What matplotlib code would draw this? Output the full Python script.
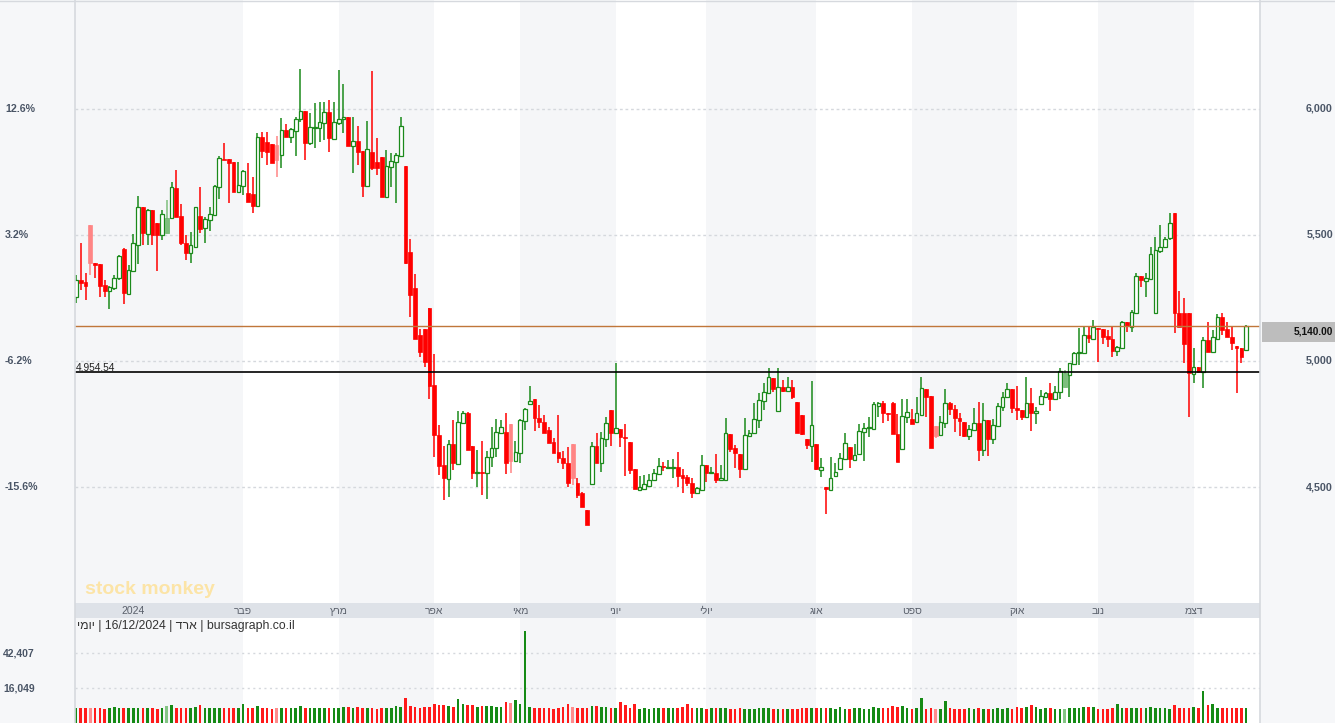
import numpy as np
import matplotlib
matplotlib.use("Agg")
import matplotlib.pyplot as plt
from matplotlib.transforms import blended_transform_factory
from matplotlib.lines import Line2D
from matplotlib.patches import Rectangle

# ---------------- data (daily candles, 17/12/2023 - 16/12/2024) ----------------
opens = [5254,5321,5313,5540,5389,5385,5302,5278,5290,5329,
         5444,5266,5357,5460,5611,5504,5599,5547,5500,5508,
         5567,5686,5575,5468,5429,5452,5575,5528,5559,5579,
         5690,5802,5802,5790,5671,5694,5667,5663,5615,5889,
         5869,5861,5857,5817,5917,5889,5913,5960,5992,5865,
         5925,5925,5944,5988,5881,5944,5960,5968,5853,5873,
         5833,5694,5829,5790,5809,5651,5770,5790,5813,5774,
         5432,5290,5103,5127,5210,4905,4706,4587,4532,4671,
         4591,4754,4794,4663,4556,4560,4556,4619,4655,4714,
         4718,4750,4603,4635,4762,4829,4849,4774,4758,4726,
         4679,4639,4615,4595,4671,4516,4476,4409,4512,4663,
         4595,4690,4806,4714,4730,4698,4679,4571,4488,4492,
         4504,4528,4552,4583,4575,4577,4579,4548,4540,4516,
         4476,4488,4587,4556,4556,4528,4528,4710,4655,4631,
         4571,4702,4714,4766,4841,4873,4933,4802,4897,4881,
         4897,4837,4786,4690,4663,4671,4567,4500,4488,4544,
         4571,4611,4659,4607,4631,4718,4734,4730,4821,4833,
         4794,4833,4710,4651,4778,4770,4758,4786,4889,4861,
         4742,4706,4754,4833,4810,4774,4758,4702,4726,4754,
         4647,4766,4690,4742,4817,4857,4889,4813,4806,4778,
         4833,4794,4829,4857,4873,4849,4877,4897,4944,4988,
         5032,5032,5103,5087,5131,5127,5099,5087,5040,5052,
         5155,5135,5190,5337,5317,5325,5190,5436,5452,5488,
         5587,5190,5190,5190,4948,4976,4956,5083,5036,5087,
         5175,5127,5095,5060,5052,5044]
highs = [5341,5468,5349,5540,5389,5385,5321,5298,5341,5421,
         5448,5381,5504,5655,5611,5603,5599,5547,5599,5639,
         5710,5758,5623,5500,5512,5611,5690,5571,5611,5698,
         5813,5865,5802,5790,5790,5758,5786,5730,5905,5909,
         5909,5861,5893,5964,5940,5925,5968,6159,5992,5984,
         6024,6028,6028,6036,6028,6155,6099,5968,5968,5932,
         5833,5952,6151,5885,5809,5837,5825,5825,5968,5774,
         5484,5345,5127,5127,5210,5028,4746,4663,4686,4766,
         4802,4802,4798,4663,4647,4683,4643,4738,4770,4766,
         4794,4750,4683,4770,4813,4901,4849,4825,4786,4738,
         4694,4786,4643,4659,4671,4536,4480,4409,4679,4714,
         4718,4778,4806,4992,4730,4750,4679,4571,4544,4548,
         4552,4571,4615,4599,4607,4611,4639,4571,4548,4536,
         4500,4627,4587,4579,4631,4587,4774,4710,4667,4631,
         4774,4726,4833,4873,4913,4972,4933,4972,4925,4937,
         4925,4837,4786,4690,4921,4671,4615,4500,4619,4595,
         4635,4714,4659,4671,4750,4754,4778,4837,4837,4841,
         4794,4837,4790,4849,4849,4810,4857,4937,4889,4861,
         4742,4782,4889,4837,4825,4794,4758,4746,4813,4837,
         4833,4766,4770,4833,4877,4913,4889,4901,4806,4937,
         4893,4817,4885,4877,4913,4901,4972,4964,4992,5036,
         5131,5135,5135,5163,5131,5127,5123,5135,5060,5159,
         5155,5202,5349,5337,5349,5452,5492,5540,5492,5587,
         5587,5278,5250,5190,5052,4976,5095,5155,5123,5186,
         5190,5155,5135,5060,5052,5143]
lows = [5230,5282,5242,5341,5329,5254,5254,5206,5282,5321,
        5226,5266,5357,5385,5460,5460,5460,5357,5480,5508,
        5567,5571,5460,5401,5389,5452,5508,5468,5516,5575,
        5643,5798,5627,5671,5667,5659,5631,5587,5611,5806,
        5778,5786,5730,5766,5889,5865,5813,5948,5798,5857,
        5845,5869,5877,5829,5877,5936,5905,5853,5746,5778,
        5651,5690,5758,5738,5651,5651,5690,5627,5809,5385,
        5175,5087,5016,4976,4849,4619,4548,4448,4460,4567,
        4587,4754,4647,4532,4500,4468,4452,4579,4619,4714,
        4552,4556,4603,4595,4726,4829,4722,4734,4714,4675,
        4635,4595,4571,4500,4508,4456,4421,4349,4512,4595,
        4560,4659,4663,4714,4659,4544,4552,4492,4488,4492,
        4504,4528,4552,4563,4575,4536,4500,4476,4504,4456,
        4472,4488,4520,4552,4516,4524,4528,4639,4575,4536,
        4571,4702,4714,4734,4805,4873,4877,4798,4877,4877,
        4849,4714,4706,4651,4599,4567,4540,4393,4488,4540,
        4567,4611,4575,4607,4627,4603,4698,4730,4778,4754,
        4762,4710,4599,4651,4754,4750,4758,4786,4778,4655,
        4694,4702,4734,4786,4718,4702,4698,4686,4722,4603,
        4623,4623,4671,4742,4802,4853,4794,4766,4766,4774,
        4722,4750,4829,4857,4802,4849,4849,4897,4857,4984,
        4984,5028,5071,5087,4996,5067,5056,5016,5020,5052,
        5115,5115,5190,5294,5254,5325,5190,5428,5448,5480,
        5111,5135,4992,4778,4913,4952,4893,5036,5032,5087,
        5103,5095,5044,4873,4992,5044]
closes = [5321,5309,5298,5389,5381,5298,5278,5294,5329,5417,
          5270,5361,5468,5611,5508,5599,5500,5500,5583,5567,
          5690,5571,5468,5429,5460,5611,5524,5563,5583,5694,
          5806,5798,5786,5671,5698,5754,5631,5615,5889,5833,
          5829,5786,5798,5917,5889,5921,5960,5992,5865,5929,
          5929,5948,5988,5885,5948,5960,5968,5853,5873,5829,
          5694,5841,5766,5766,5651,5774,5794,5817,5932,5389,
          5262,5087,5036,4996,4901,4706,4583,4536,4671,4595,
          4758,4794,4647,4556,4560,4556,4619,4655,4718,4738,
          4595,4603,4639,4766,4810,4841,4774,4758,4714,4675,
          4635,4615,4595,4516,4536,4468,4421,4349,4663,4595,
          4694,4754,4714,4734,4698,4694,4567,4492,4500,4512,
          4528,4556,4583,4579,4579,4579,4544,4536,4516,4476,
          4496,4587,4556,4560,4528,4536,4714,4651,4635,4571,
          4706,4714,4770,4845,4877,4937,4889,4897,4881,4897,
          4857,4714,4710,4667,4746,4571,4579,4492,4536,4560,
          4615,4675,4611,4627,4722,4734,4738,4829,4833,4794,
          4790,4710,4599,4782,4798,4750,4794,4893,4857,4655,
          4702,4758,4833,4810,4774,4762,4702,4730,4754,4647,
          4766,4690,4746,4821,4857,4889,4813,4806,4778,4833,
          4794,4802,4861,4873,4849,4877,4960,4952,4992,5032,
          5036,5103,5091,5135,5127,5095,5087,5040,5056,5155,
          5139,5194,5337,5321,5329,5425,5440,5452,5484,5547,
          5190,5135,5067,4952,4976,4956,5083,5036,5095,5175,
          5123,5095,5071,5052,5016,5140]
volumes = [9120,9120,9290,9290,9290,9290,8960,9290,9550,9290,
           9120,9290,9290,9290,9290,9290,9290,8960,9290,9740,
           10010,9290,9290,9290,9290,9550,10010,9290,9290,9290,
           9290,9290,9290,9290,9290,10290,9290,9290,9740,9290,
           9290,8960,9290,9290,9290,9290,9290,9740,9290,9290,
           9290,9290,9290,9290,9290,9290,9550,9550,9290,9550,
           9290,9290,9290,8960,9290,9290,9290,9740,9550,12270,
           9740,9550,9290,9550,9550,10290,9920,10100,9740,9550,
           11830,10290,10010,10010,9550,9740,9740,9740,9550,9550,
           10880,10500,11510,10290,78080,9380,9210,9210,9210,9210,
           8960,9210,9550,10290,9380,9210,9210,9210,9740,9740,
           9380,9470,9210,9210,10880,10010,9210,10290,9040,9210,
           8960,9210,9210,9210,9210,9210,9210,9470,10290,9210,
           9210,9210,8960,9210,9210,9210,9210,8960,8960,9210,
           8960,8960,8960,9210,9210,9210,8960,8960,8960,8960,
           8960,8960,9210,9210,9210,9210,9210,9210,9210,8960,
           9470,8960,8960,9210,9210,8960,8960,9470,9210,9210,
           9210,9740,9550,9740,9210,8960,9210,12270,8960,9210,
           8960,8960,11190,9290,8960,8960,8960,9210,8960,9210,
           8960,8960,8960,9210,8960,9210,8960,9470,9210,9470,
           10010,9470,8960,9210,9210,8960,8960,8960,9210,9210,
           9210,9470,9470,9470,9040,8960,8960,9210,10290,9210,
           9210,9210,9210,9210,9210,9470,9210,9210,9210,8960,
           10010,9210,9210,9210,9470,9210,14770,10010,10290,9210,
           9210,9210,9210,9210,9210,9210]

month_labels = ["2024", "פבר", "מרץ", "אפר", "מאי", "יוני", "יולי",
                "אוג", "ספט", "אוק", "נוב", "דצמ"]
month_start = [12, 35, 55, 75, 93, 113, 132, 155, 175, 197, 214, 234]  # candle index

price_ticks = [4500, 5000, 5500, 6000]
base_price = 5329          # reference for the % scale
ref_level = 4954.54
volume_ticks = [16049, 42407]
info_parts = ["יומי", "16/12/2024", "ארד", "bursagraph.co.il"]

# ---------------- layout ----------------
W, H, DPI = 1335, 723, 100
plt.rcParams['font.family'] = ['Liberation Sans', 'DejaVu Sans']
BG = '#f6f7f9'
SHADE = '#f5f6f8'
LABEL = '#4a5566'

fig = plt.figure(figsize=(W / DPI, H / DPI), dpi=DPI, facecolor=BG)


def rect(x0, y0, x1, y1):
    return [x0 / W, 1 - y1 / H, (x1 - x0) / W, (y1 - y0) / H]


ax = fig.add_axes(rect(75, 0, 1260, 603))
ax_strip = fig.add_axes(rect(75, 603, 1260, 618))
axv = fig.add_axes(rect(75, 618, 1260, 723))

n = len(closes)
x = np.arange(n)
xlim = (-0.21, n + 1.9)
ylim = (4039.7, 6432.5)
vlim = (6073, 112100)


def visual(s):
    # matplotlib has no bidi: put Hebrew glyphs in visual (left-to-right) order
    if any('\u0590' <= ch <= '\u05ff' for ch in s):
        return s[::-1]
    return s


for a in (ax, ax_strip, axv):
    a.set_xlim(*xlim)
    a.set_xticks([])
    a.set_yticks([])
    for sp in a.spines.values():
        sp.set_visible(False)

ax.set_ylim(*ylim)
axv.set_yscale('log')
axv.set_ylim(*vlim)
axv.yaxis.set_major_locator(matplotlib.ticker.NullLocator())
axv.yaxis.set_minor_locator(matplotlib.ticker.NullLocator())
ax_strip.set_ylim(0, 1)
ax_strip.set_facecolor('#dee2e8')

# alternate month shading
bounds = [xlim[0]] + month_start[1:] + [xlim[1]]
for a in (ax, axv):
    a.set_facecolor('white')
    for k in range(0, len(bounds) - 1, 2):
        a.axvspan(bounds[k], bounds[k + 1], color=SHADE, lw=0, zorder=0)

# grid
for p in price_ticks:
    ax.axhline(p, color='#d5d8dd', lw=1, ls=(0, (2, 2)), zorder=1)
for v in volume_ticks:
    axv.axhline(v, color='#d5d8dd', lw=1, ls=(0, (1.5, 2.5)), zorder=1)

# ---------------- candles ----------------
o = np.array(opens, float)
h = np.array(highs, float)
l = np.array(lows, float)
c = np.array(closes, float)
prev = np.r_[o[0], c[:-1]]
up = c >= o
strong = np.where(up, c >= prev, c <= prev)

G_DARK, G_LIGHT, R_STRONG, R_LIGHT = '#1b8a1b', '#7dbf7d', '#ff0000', '#ff8585'
wick_col, face_col, edge_col, lw_body, vol_col = [], [], [], [], []
for u, s in zip(up, strong):
    if u and s:
        wick_col.append(G_DARK); face_col.append('white'); edge_col.append(G_DARK)
        lw_body.append(0.9); vol_col.append('#158a15')
    elif u:
        wick_col.append(G_LIGHT); face_col.append(G_LIGHT); edge_col.append('#6cb26c')
        lw_body.append(0.5); vol_col.append('#84c584')
    elif s:
        wick_col.append(R_STRONG); face_col.append(R_STRONG); edge_col.append(R_STRONG)
        lw_body.append(0.5); vol_col.append('#ff1a1a')
    else:
        wick_col.append(R_LIGHT); face_col.append(R_LIGHT); edge_col.append(R_LIGHT)
        lw_body.append(0.5); vol_col.append('#ff8c8c')

ax.vlines(x, l, h, colors=wick_col, linewidth=1.1, zorder=2)
body_bottom = np.minimum(o, c)
body_height = np.maximum(np.abs(c - o), 1.5)
ax.bar(x, body_height, bottom=body_bottom, width=0.78, color=face_col,
       edgecolor=edge_col, linewidth=lw_body, zorder=3)

# reference lines
last = closes[-1]
ax.axhline(ref_level, color='black', lw=1.2, zorder=4)
ax.axhline(last, color='#c0763a', lw=1.0, zorder=4)
ax.text(xlim[0] + 0.15, ref_level, f"{ref_level:,.2f}", ha='left', va='bottom',
        fontsize=7.3, color='#222222', zorder=5)

# volume
vol = np.array(volumes, float)
axv.bar(x, vol - vlim[0], bottom=vlim[0], width=0.55, color=vol_col,
        linewidth=0, zorder=3)

# ---------------- axis labels ----------------
tr_main = blended_transform_factory(fig.transFigure, ax.transData)
for p in price_ticks:
    pct = (p / base_price - 1) * 100
    ax.text(5 / W, p, f"{pct:.1f}%", transform=tr_main, ha='left', va='center',
            fontsize=7.7, fontweight='bold', color=LABEL)
    ax.text(1333 / W, p, f"{p:,}", transform=tr_main, ha='right', va='center',
            fontsize=7.7, fontweight='bold', color=LABEL)

# last price box
ppx = (ylim[1] - ylim[0]) / 603.0
ax.add_patch(Rectangle((1262 / W, last - 16 * ppx), (W - 1262) / W, 20 * ppx,
                       transform=tr_main, facecolor='#bdbdbd', edgecolor='none',
                       clip_on=False, zorder=6))
ax.text(1333 / W, last - 6 * ppx, f"{last:,.2f}", transform=tr_main,
        ha='right', va='center', fontsize=7.3, fontweight='bold',
        color='#111111', zorder=7)

tr_vol = blended_transform_factory(fig.transFigure, axv.transData)
for v in volume_ticks:
    axv.text(3 / W, v, f"{v:,}", transform=tr_vol, ha='left', va='center',
             fontsize=7.5, fontweight='bold', color=LABEL)

tr_strip = blended_transform_factory(ax_strip.transData, ax_strip.transAxes)
for lab, idx in zip(month_labels, month_start):
    ax_strip.text(idx, 0.5, visual(lab), transform=tr_strip, ha='center',
                  va='center', fontsize=7.5, color='#5a606b')

info = " | ".join(visual(p) for p in info_parts)
fig.text(77 / W, 1 - 626 / H, info, ha='left', va='center', fontsize=8.8,
         color='#333333')

fig.text(85 / W, 1 - 590 / H, "stock monkey", ha='left', va='center',
         fontsize=14, fontweight='bold', color='#fce4a6')

# frame lines
fig.add_artist(Line2D([75 / W, 75 / W], [0, 1], color='#d6d9de', lw=1.2))
fig.add_artist(Line2D([1260 / W, 1260 / W], [0, 1], color='#d6d9de', lw=1.2))
fig.add_artist(Line2D([0, 1], [1 - 0.6 / H, 1 - 0.6 / H], color='#d6d9de', lw=1.0))

fig.savefig('out.png', dpi=DPI, facecolor=fig.get_facecolor())
